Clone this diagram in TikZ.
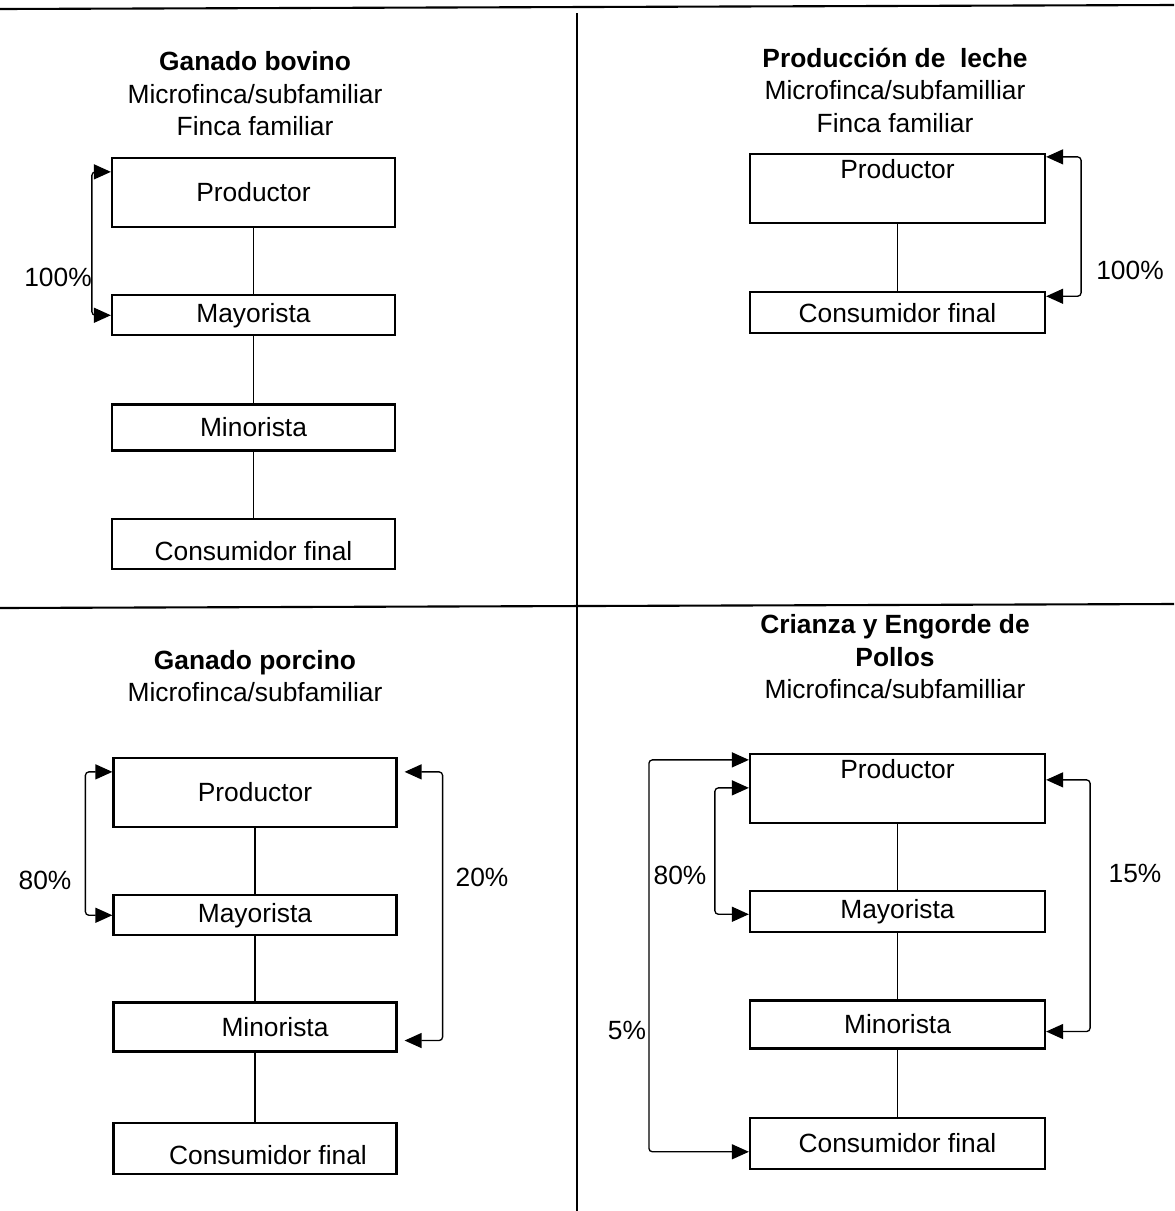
\documentclass[tikz,border=0pt]{standalone}
\usepackage{fontspec}
\setmainfont{Liberation Sans}
\usetikzlibrary{arrows.meta,positioning}

\begin{document}
\begin{tikzpicture}[x=0.02cm, y=-0.02cm, >={Triangle[length=0.34cm,width=0.3cm]}, node distance=1.32cm, inner sep=0pt]

\tikzstyle{every node}=[font=\fontsize{15}{18.5}\selectfont]
\tikzstyle{box}=[draw, line width=1.3pt, minimum width=5.66cm]
\tikzstyle{wide}=[minimum width=5.9cm]
\tikzstyle{lowtxt}=[text height=19pt]
\tikzstyle{hightxt}=[text depth=22.6pt]
\tikzstyle{link}=[-, line width=0.7pt]
\tikzstyle{flow}=[<->, line width=0.75pt, rounded corners=2pt]
\tikzstyle{frame}=[line width=1.2pt]

\useasboundingbox (0,0) rectangle (1174,1211);

\draw[frame] (0,9) -- (1174,5);
\draw[frame] (577,13) -- (577,1211);
\draw[frame] (0,608) -- (1174,604);

\node[align=center] (tbov) at (255,94) {\textbf{Ganado bovino}\\Microfinca/subfamiliar\\Finca familiar};
\node[box, minimum height=1.38cm] (bov1) at (253.5,192.5) {Productor};
\node[box, minimum height=0.8cm] (bov2) [below=of bov1] {Mayorista};
\node[box, minimum height=0.92cm] (bov3) [node distance=1.34cm, below=of bov2] {Minorista};
\node[box, lowtxt, minimum height=1cm] (bov4) [below=of bov3] {Consumidor final};
\node (pbov) at (58,277) {100\%};

\node[align=center] (tlec) at (895,90) {\textbf{Producción de~ leche}\\Microfinca/subfamilliar\\Finca familiar};
\node[box, wide, hightxt, minimum height=1.38cm] (lec1) at (897.5,188.5) {Productor};
\node[box, wide, minimum height=0.82cm] (lec2) [node distance=1.34cm, below=of lec1] {Consumidor final};
\node (plec) at (1130,270) {100\%};

\node[align=center] (tpor) at (255,676) {\textbf{Ganado porcino}\\Microfinca/subfamiliar};
\node[box, minimum height=1.38cm] (por1) at (255,792.5) {Productor};
\node[box, minimum height=0.8cm] (por2) [below=of por1] {Mayorista};
\node[box, minimum height=0.98cm] (por3) [node distance=1.3cm, below=of por2] {\hspace*{0.8cm}Minorista};
\node[box, lowtxt, minimum height=1.02cm] (por4) [node distance=1.38cm, below=of por3] {\hspace*{0.52cm}Consumidor final};
\node (ppor1) at (45,880) {80\%};
\node (ppor2) at (482,877) {20\%};

\node[align=center] (tpol) at (895,657) {\textbf{Crianza y Engorde de}\\\textbf{Pollos}\\Microfinca/subfamilliar};
\node[box, wide, hightxt, minimum height=1.38cm] (pol1) at (897.5,788.5) {Productor};
\node[box, wide, minimum height=0.82cm] (pol2) [below=of pol1] {Mayorista};
\node[box, wide, minimum height=0.96cm] (pol3) [below=of pol2] {Minorista};
\node[box, wide, minimum height=1.02cm] (pol4) [node distance=1.34cm, below=of pol3] {Consumidor final};
\node (ppol1) at (680,875) {80\%};
\node (ppol2) at (627,1030) {5\%};
\node (ppol3) at (1135,873) {15\%};

\path[link]
(bov1) edge (bov2)
(bov2) edge (bov3)
(bov3) edge (bov4)

(lec1) edge (lec2)

(por1) edge (por2)
(por2) edge (por3)
(por3) edge (por4)

(pol1) edge (pol2)
(pol2) edge (pol3)
(pol3) edge (pol4);

\draw[flow] ([yshift=-0.3cm]bov1.north west) -- ++(-0.38cm,0) |- (bov2.west);
\draw[flow] ([yshift=-0.08cm]lec1.north east) -- ++(0.7cm,0) |- ([yshift=0.33cm]lec2.east);
\draw[flow] ([yshift=-0.3cm]por1.north west) -- ++(-0.54cm,0) |- (por2.west);
\draw[flow] ([xshift=0.14cm,yshift=-0.3cm]por1.north east) -- ++(0.76cm,0) |- ([xshift=0.14cm,yshift=-0.27cm]por3.east);
\draw[flow] ([yshift=-0.14cm]pol1.north west) -- ++(-2cm,0) |- ([yshift=-0.17cm]pol4.west);
\draw[flow] ([yshift=-0.7cm]pol1.north west) -- ++(-0.68cm,0) |- ([yshift=-0.05cm]pol2.west);
\draw[flow] ([yshift=-0.54cm]pol1.north east) -- ++(0.88cm,0) |- ([yshift=-0.14cm]pol3.east);

\end{tikzpicture}
\end{document}
